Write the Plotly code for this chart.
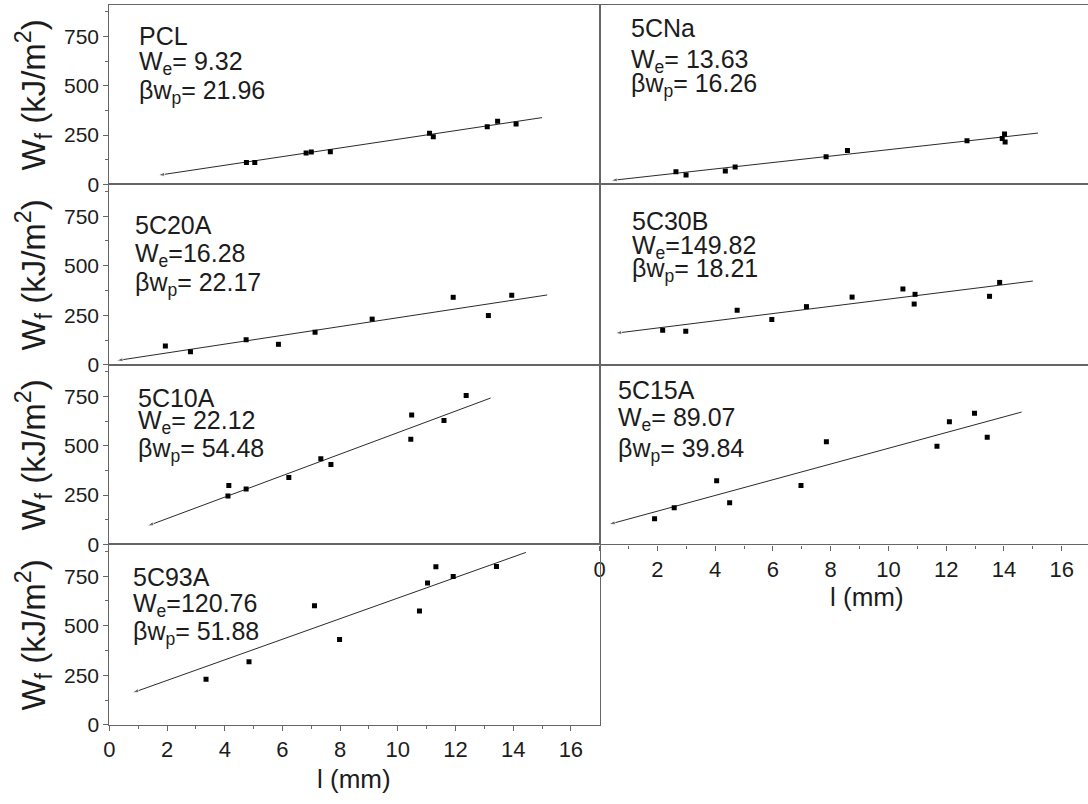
import plotly.graph_objects as go

# ---------------- data ----------------
names = ["PCL", "5CNa", "5C20A", "5C30B", "5C10A", "5C15A", "5C93A"]
we_text = ["= 9.32", "= 13.63", "=16.28", "=149.82", "= 22.12", "= 89.07", "=120.76"]
bwp_text = ["= 21.96", "= 16.26", "= 22.17", "= 18.21", "= 54.48", "= 39.84", "= 51.88"]
we = [9.32, 13.63, 16.28, 149.82, 22.12, 89.07, 120.76]
bwp = [21.96, 16.26, 22.17, 18.21, 54.48, 39.84, 51.88]
fit_l_start = [1.68, 0.38, 0.24, 0.53, 1.31, 0.31, 0.79]
fit_l_end = [15.0, 15.18, 15.18, 15.0, 13.22, 14.61, 14.44]

pcl_l = [4.75, 5.04, 6.82, 7.0, 7.66, 11.1, 11.23, 13.1, 13.46, 14.1]
pcl_w = [111, 111, 159, 164, 166, 259, 242, 292, 320, 307]

cna_l = [2.64, 2.99, 4.35, 4.69, 7.84, 8.58, 12.72, 14.02, 13.94, 14.04]
cna_w = [64, 48, 68, 89, 140, 172, 221, 256, 233, 215]

c20a_l = [1.94, 2.81, 4.74, 5.86, 7.13, 9.11, 11.92, 13.14, 13.95]
c20a_w = [96, 66, 127, 104, 165, 231, 341, 249, 351]

c30b_l = [2.18, 2.98, 4.76, 5.96, 7.16, 8.74, 10.5, 10.92, 10.89, 13.5, 13.85]
c30b_w = [175, 170, 276, 229, 294, 342, 383, 356, 307, 346, 416]

c10a_l = [4.14, 4.11, 4.74, 6.22, 7.33, 7.68, 10.48, 10.45, 11.6, 12.37]
c10a_w = [299, 245, 281, 339, 434, 405, 656, 533, 628, 755]

c15a_l = [1.9, 2.58, 4.05, 4.5, 6.97, 7.85, 11.68, 12.11, 12.98, 13.42]
c15a_w = [130, 186, 323, 211, 299, 521, 498, 622, 665, 543]

c93a_l = [3.35, 4.84, 7.11, 7.98, 10.75, 11.03, 11.32, 11.92, 13.42]
c93a_w = [231, 319, 601, 431, 575, 716, 798, 749, 799]

points_l = [pcl_l, cna_l, c20a_l, c30b_l, c10a_l, c15a_l, c93a_l]
points_w = [pcl_w, cna_w, c20a_w, c30b_w, c10a_w, c15a_w, c93a_w]

y_ticks = [0, 250, 500, 750]
y_minor = [125, 375, 625, 875]
x_ticks = [0, 2, 4, 6, 8, 10, 12, 14, 16]
x_minor = [1, 3, 5, 7, 9, 11, 13, 15]

# ---------------- layout geometry (pixels) ----------------
FW, FH = 1088, 804
col_x = [(104, 597), (597, 1088)]
row_y = [(5, 187), (187, 370), (370, 552), (552, 735)]
grid = [(0, 0), (0, 1), (1, 0), (1, 1), (2, 0), (2, 1), (3, 0)]
x_range = [[0, 17.0], [0, 16.91]]
y_range = [0, 910]
bottom_panels = {5, 6}
label_pos = [
    (132, [36, 64, 93]),
    (626, [28, 62, 86]),
    (128, [228, 259, 288]),
    (627, [224, 250, 274]),
    (131, [404, 428, 456]),
    (613, [395, 425, 456]),
    (126, [585, 613, 642]),
]

def px(x):
    return x / FW

def py(y):
    return 1 - y / FH

AX = "#666666"
TXT = "#1c1c1c"
FONT = "Arial"
XTICK_SIZE = 22
YTICK_SIZE = 21

fig = go.Figure()
layout = dict(
    width=FW, height=FH,
    margin=dict(l=0, r=0, t=0, b=0),
    paper_bgcolor="white", plot_bgcolor="white",
    showlegend=False,
    font=dict(family=FONT, color=TXT, size=14),
)
annotations = []

for i, (r, c) in enumerate(grid):
    k = i + 1
    xa = "x" if k == 1 else f"x{k}"
    ya = "y" if k == 1 else f"y{k}"
    xkey = "xaxis" if k == 1 else f"xaxis{k}"
    ykey = "yaxis" if k == 1 else f"yaxis{k}"
    x0, x1 = col_x[c]
    ytop, ybot = row_y[r]
    is_bottom = i in bottom_panels
    xaxis = dict(
        domain=[px(x0), px(x1)], range=x_range[c], anchor=ya,
        showline=True, mirror=True, linecolor=AX, linewidth=1.3,
        showgrid=False, zeroline=False, fixedrange=True,
        tickfont=dict(size=XTICK_SIZE, color=TXT, family=FONT),
    )
    if is_bottom:
        xaxis.update(tickvals=x_ticks, ticktext=[str(v) for v in x_ticks],
                     ticks="outside", ticklen=5, tickcolor=AX, tickwidth=1.2,
                     minor=dict(tickvals=x_minor, ticks="outside", ticklen=3,
                                tickcolor=AX, showgrid=False))
    else:
        xaxis.update(showticklabels=False, ticks="")
    yaxis = dict(
        domain=[py(ybot), py(ytop)], range=y_range, anchor=xa,
        showline=True, mirror=(c == 0), linecolor=AX, linewidth=1.3,
        showgrid=False, zeroline=False, fixedrange=True,
        tickfont=dict(size=YTICK_SIZE, color=TXT, family=FONT),
    )
    if c == 0:
        yaxis.update(tickvals=y_ticks, ticktext=[str(v) for v in y_ticks],
                     ticks="outside", ticklen=5, tickcolor=AX, tickwidth=1.2,
                     minor=dict(tickvals=y_minor, ticks="outside", ticklen=3,
                                tickcolor=AX, showgrid=False))
    else:
        yaxis.update(showticklabels=False, ticks="")
    layout[xkey] = xaxis
    layout[ykey] = yaxis

    lx = [fit_l_end[i], fit_l_start[i]]
    ly = [we[i] + bwp[i] * v for v in lx]
    fig.add_trace(go.Scatter(
        x=lx, y=ly, xaxis=xa, yaxis=ya, mode="lines+markers",
        line=dict(color="#2a2a2a", width=1),
        marker=dict(symbol="arrow", angleref="previous", size=[0, 7],
                    color="#2a2a2a"),
        hoverinfo="skip",
    ))
    fig.add_trace(go.Scatter(
        x=points_l[i], y=points_w[i], xaxis=xa, yaxis=ya, mode="markers",
        marker=dict(symbol="square", size=5, color="black"),
    ))

    lx_px, lys = label_pos[i]
    lines = [names[i],
             f"W<sub>e</sub>{we_text[i]}",
             f"βw<sub>p</sub>{bwp_text[i]}"]
    for t, yy in zip(lines, lys):
        annotations.append(dict(
            x=px(lx_px), y=py(yy), xref="paper", yref="paper",
            xanchor="left", yanchor="middle", text=t, showarrow=False,
            font=dict(size=25, color=TXT, family=FONT),
        ))
    if c == 0:
        annotations.append(dict(
            x=px(28), y=py((ytop + ybot) / 2), xref="paper", yref="paper",
            xanchor="center", yanchor="middle", textangle=-90,
            text="W<sub>f</sub> (kJ/m<sup>2</sup>)", showarrow=False,
            font=dict(size=33, color=TXT, family=FONT),
        ))

annotations.append(dict(x=px(350), y=py(790), xref="paper", yref="paper",
                        xanchor="center", yanchor="middle", text="l (mm)",
                        showarrow=False, font=dict(size=26, color=TXT, family=FONT)))
annotations.append(dict(x=px(866), y=py(605), xref="paper", yref="paper",
                        xanchor="center", yanchor="middle", text="l (mm)",
                        showarrow=False, font=dict(size=26, color=TXT, family=FONT)))

layout["annotations"] = annotations
fig.update_layout(**layout)
fig.write_html("out.html")
